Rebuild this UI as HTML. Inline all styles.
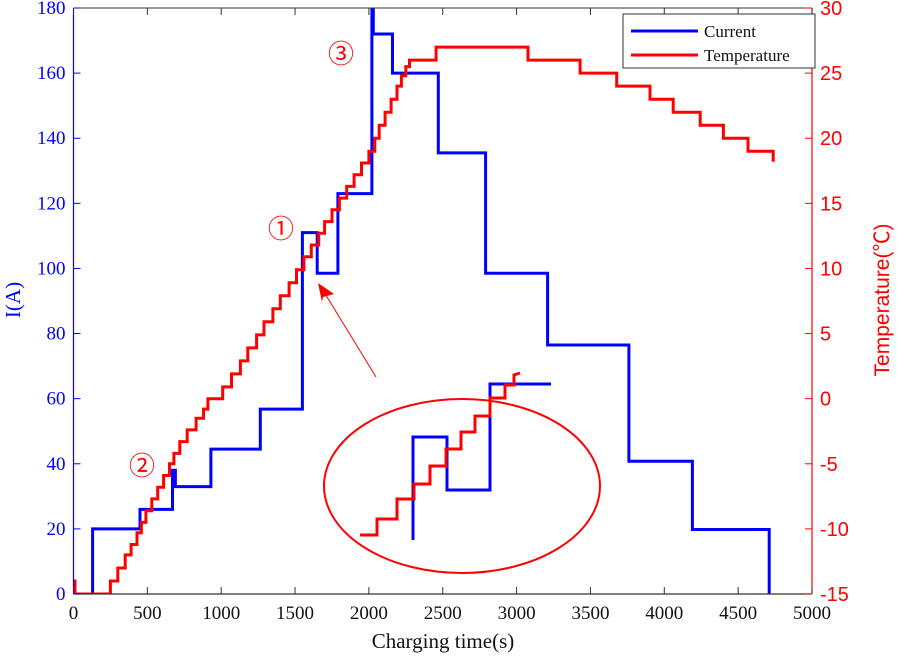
<!DOCTYPE html>
<html><head><meta charset="utf-8"><style>
html,body{margin:0;padding:0;background:#fff;}
svg{display:block;}
</style></head><body>
<svg id="chart" width="897" height="662" xmlns="http://www.w3.org/2000/svg">
<g id="grid"></g>
<g id="series"></g>
<g id="axes"></g>
</svg>
<script>
const xTicks=[0,500,1000,1500,2000,2500,3000,3500,4000,4500,5000];
const leftTicks=[0,20,40,60,80,100,120,140,160,180];
const rightTicks=[-15,-10,-5,0,5,10,15,20,25,30];
const currentTimes=[0,129,129,450,450,670,670,690,690,930,930,1265,1265,1550,1550,1650,1650,1790,1790,2020,2020,2030,2030,2160,2160,2470,2470,2790,2790,3210,3210,3760,3760,4190,4190,4710,4710];
const currentValues=[0,0,20,20,26,26,38,38,33,33,44.5,44.5,56.8,56.8,111,111,98.5,98.5,123,123,190,190,172,172,160,160,135.5,135.5,98.5,98.5,76.5,76.5,40.8,40.8,19.8,19.8,0];
const tempStepTimes=[0,10,250,300,350,390,430,460,490,530,570,610,650,680,720,770,830,880,910,1010,1070,1130,1180,1240,1290,1350,1400,1460,1510,1560,1610,1660,1700,1750,1800,1850,1900,1950,2000,2040,2070,2110,2150,2190,2220,2250,2275,2455,3077,3430,3678,3903,4060,4243,4400,4567,4737];
const tempStepValues=[-14,-15,-14,-13,-12,-11.2,-10.3,-9.5,-8.6,-7.7,-6.8,-5.9,-5,-4.2,-3.3,-2.4,-1.5,-0.8,0,0.9,1.9,2.9,3.9,4.9,5.9,6.9,7.9,8.9,9.9,10.9,11.8,12.7,13.6,14.5,15.4,16.3,17.2,18.1,19,20,21,22,23,24,24.8,25.5,26,27,26,25,24,23,22,21,20,19,18.2];
const tempEnd=4737;

const X0=73.5,X1=812,Y0=594,Y1=8;
const xs=t=>X0+(t/5000)*(X1-X0);
const yl=v=>Y0-(v/180)*(Y0-Y1);
const yr=v=>Y0-((v+15)/45)*(Y0-Y1);
const NS='http://www.w3.org/2000/svg';
const svg=document.getElementById('chart');
const G=document.getElementById('series'),A=document.getElementById('axes');
function mk(tag,attrs,parent){const e=document.createElementNS(NS,tag);for(const k in attrs)e.setAttribute(k,attrs[k]);parent.appendChild(e);return e;}

const defs=mk('defs',{},svg);
const cp=mk('clipPath',{id:'plotclip'},defs);
mk('rect',{x:X0,y:Y1,width:X1-X0,height:Y0-Y1},cp);

let d='';
currentTimes.forEach((t,i)=>{d+=(i?'L':'M')+xs(t).toFixed(1)+' '+yl(currentValues[i]).toFixed(1);});
const cur=mk('path',{d:d,fill:'none',stroke:'#0000ff','stroke-width':3,'clip-path':'url(#plotclip)'},G);



let dt='';
tempStepTimes.forEach((t,i)=>{
  const y=yr(tempStepValues[i]).toFixed(1);
  if(i===0){dt+='M'+xs(t).toFixed(1)+' '+y;}
  else{dt+='L'+xs(t).toFixed(1)+' '+yr(tempStepValues[i-1]).toFixed(1)+'L'+xs(t).toFixed(1)+' '+y;}
});
dt+='L'+xs(tempEnd).toFixed(1)+' '+yr(tempStepValues[tempStepValues.length-1]).toFixed(1);
const tmp=mk('path',{d:dt,fill:'none',stroke:'#ff0000','stroke-width':3,'clip-path':'url(#plotclip)'},G);



const topL=mk('line',{x1:X0,y1:Y1,x2:X1,y2:Y1,stroke:'#333','stroke-width':1},A);

const botL=mk('line',{x1:X0,y1:Y0,x2:X1,y2:Y0,stroke:'#333','stroke-width':1.2},A);

const lL=mk('line',{x1:X0,y1:Y1,x2:X0,y2:Y0,stroke:'#0000ff','stroke-width':1.2},A);

const rL=mk('line',{x1:X1,y1:Y1,x2:X1,y2:Y0,stroke:'#ff0000','stroke-width':1.2},A);


xTicks.forEach(t=>{
  const x=xs(t);
  mk('line',{x1:x,y1:Y0,x2:x,y2:Y0-7,stroke:'#333'},A);
  mk('line',{x1:x,y1:Y1,x2:x,y2:Y1+7,stroke:'#333'},A);
  const tx=mk('text',{x:x,y:Y0+25,'text-anchor':'middle','font-family':'Liberation Serif, serif','font-size':19,fill:'#111'},A);
  tx.textContent=t;
  
  
});
leftTicks.forEach(v=>{
  const y=yl(v);
  mk('line',{x1:X0,y1:y,x2:X0+7,y2:y,stroke:'#0000ff'},A);
  const tx=mk('text',{x:X0-8,y:y+6,'text-anchor':'end','font-family':'Liberation Serif, serif','font-size':19,fill:'#0000ff'},A);
  tx.textContent=v;
  
  
});
rightTicks.forEach(v=>{
  const y=yr(v);
  mk('line',{x1:X1,y1:y,x2:X1-7,y2:y,stroke:'#ff0000'},A);
  const tx=mk('text',{x:X1+8,y:y+7,'text-anchor':'start','font-family':'Liberation Sans, sans-serif','font-size':20,fill:'#ff0000'},A);
  tx.textContent=v;
  
  
});
</script>
<svg style="position:absolute;left:0;top:0" width="897" height="662" xmlns="http://www.w3.org/2000/svg">
  <text x="443" y="648" text-anchor="middle" font-family="Liberation Serif, serif" font-size="21" fill="#111">Charging time(s)</text>
  <text transform="translate(20,300) rotate(-90)" text-anchor="middle" font-family="Liberation Serif, serif" font-size="21" fill="#0000ff">I(A)</text>
  <text transform="translate(889,300) rotate(-90)" text-anchor="middle" font-family="Liberation Sans, 'Noto Sans CJK SC', sans-serif" font-size="21" fill="#ff0000">Temperature(℃)</text>
  <g>
    <rect x="623" y="14" width="192" height="54" fill="#fff" stroke="#333" stroke-width="1"/>
    <line x1="631" y1="31" x2="698" y2="31" stroke="#0000ff" stroke-width="3"/>
    <text x="704" y="37" font-family="Liberation Serif, serif" font-size="17" fill="#111">Current</text>
    <line x1="631" y1="55" x2="698" y2="55" stroke="#ff0000" stroke-width="3"/>
    <text x="704" y="61" font-family="Liberation Serif, serif" font-size="17" fill="#111">Temperature</text>
  </g>
  <g>
    <ellipse cx="462" cy="486" rx="138" ry="87" fill="none" stroke="#ff0000" stroke-width="2"/>
    <polyline points="413,540 413,437 447,437 447,490 490,490 490,384 551,384" fill="none" stroke="#0000ff" stroke-width="3"/>
    <polyline points="360,535 377,535 377,519 397,519 397,499 414,499 414,484 430,484 430,466 446,466 446,449 461,449 461,432 475,432 475,416 490,416 490,398 505,398 505,385 514,385 514,375 520,373" fill="none" stroke="#ff0000" stroke-width="3"/>
  </g>
  <g>
    <line x1="376" y1="377" x2="324" y2="292" stroke="#ff0000" stroke-width="1"/>
    <polygon points="318,283 334,294 323,297 322,302" fill="#ff0000"/>
  </g>
  <text x="281" y="238" text-anchor="middle" font-family="'Noto Sans CJK SC', sans-serif" font-size="26" fill="#ff0000">①</text>
  <text x="142" y="475" text-anchor="middle" font-family="'Noto Sans CJK SC', sans-serif" font-size="26" fill="#ff0000">②</text>
  <text x="341" y="63" text-anchor="middle" font-family="'Noto Sans CJK SC', sans-serif" font-size="26" fill="#ff0000">③</text>
</svg>
</body></html>
